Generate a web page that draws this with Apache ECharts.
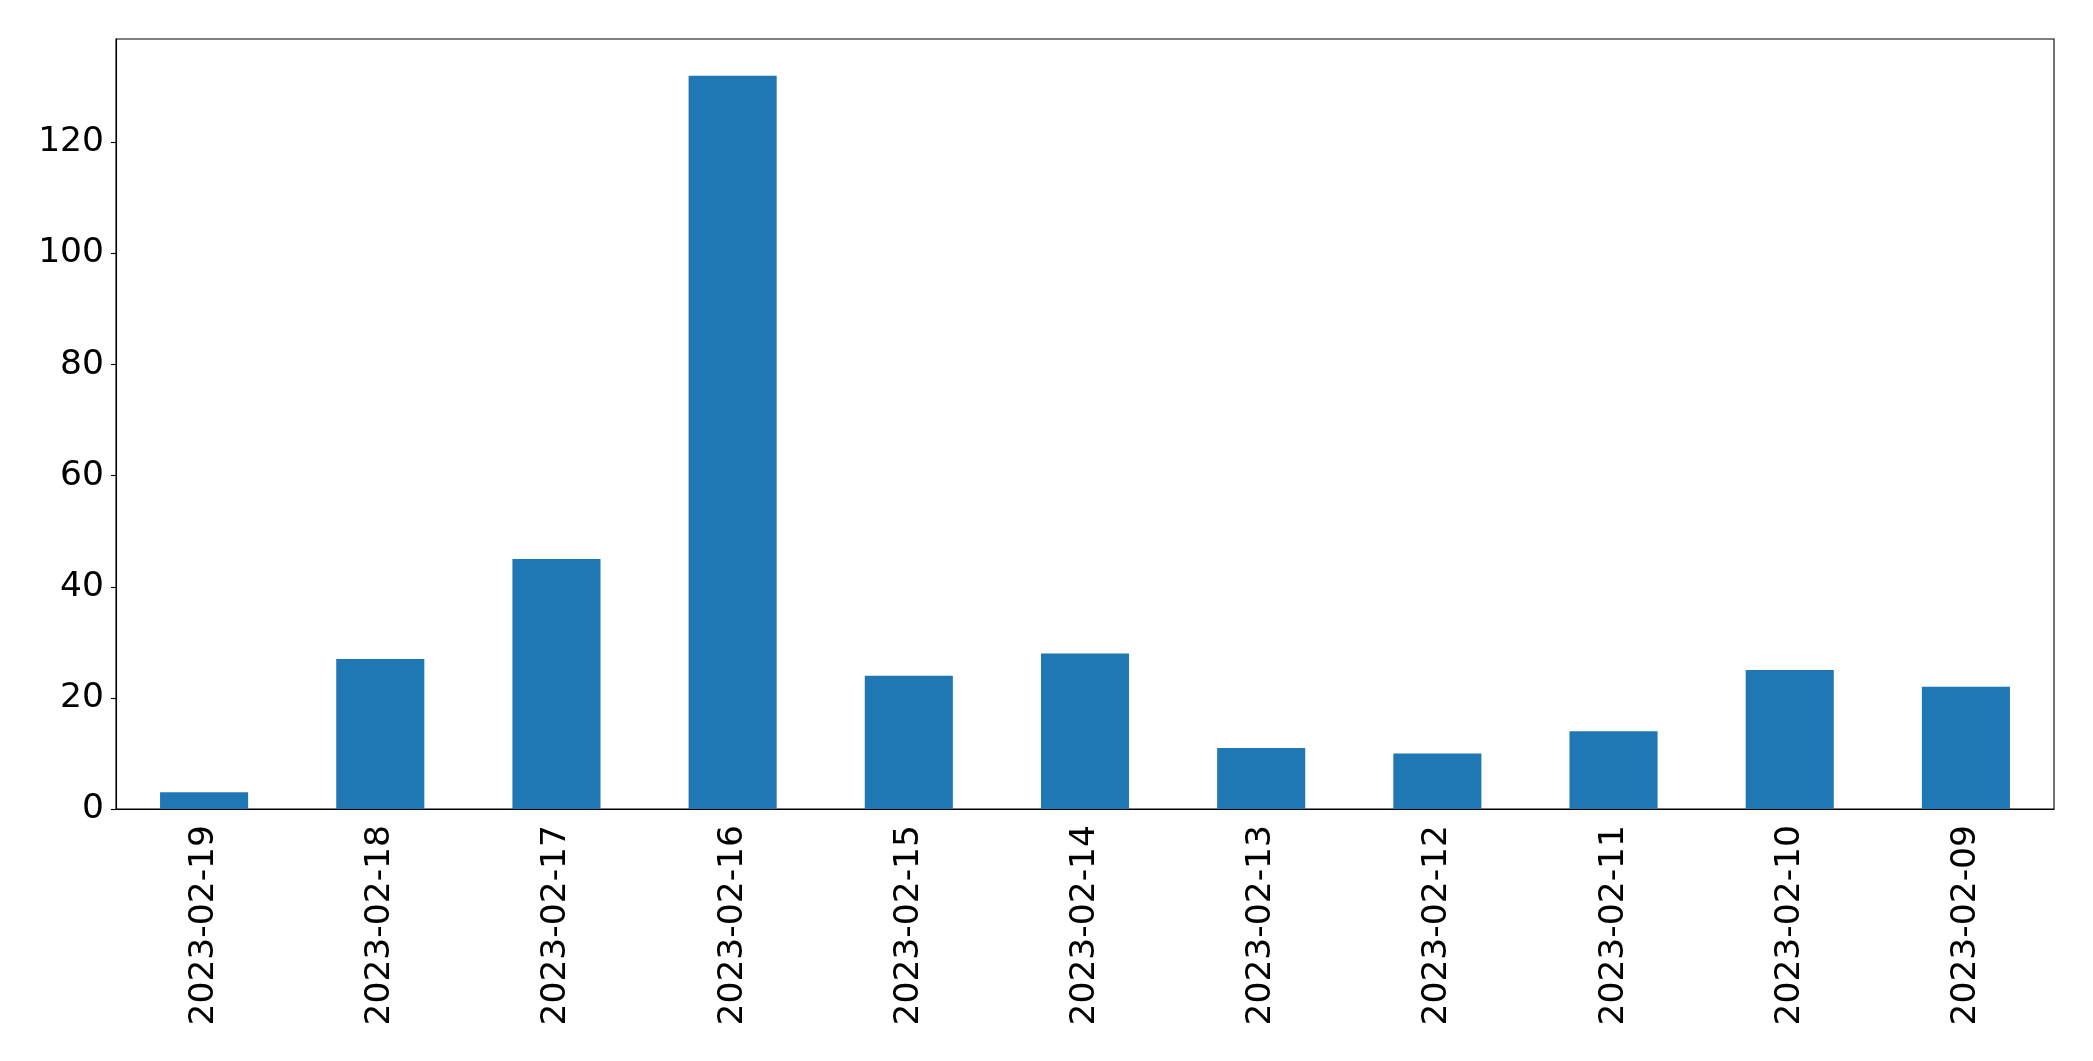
<!DOCTYPE html>
<html>
<head>
<meta charset="utf-8">
<script src="https://cdn.jsdelivr.net/npm/echarts@6/dist/echarts.min.js"></script>
<style>
html,body{margin:0;padding:0;background:#fff;}
#c{width:2093px;height:1061px;}
</style>
</head>
<body>
<div id="c"></div>
<script>
const categories = ['2023-02-19','2023-02-18','2023-02-17','2023-02-16','2023-02-15','2023-02-14','2023-02-13','2023-02-12','2023-02-11','2023-02-10','2023-02-09'];
const values = [3, 27, 45, 132, 24, 28, 11, 10, 14, 25, 22];
const yTicks = [0, 20, 40, 60, 80, 100, 120];

const chart = echarts.init(document.getElementById('c'), null, {renderer: 'canvas'});
const font = 'DejaVu Sans';
chart.setOption({
  animation: false,
  backgroundColor: '#fff',
  grid: {left: 116, right: 39, top: 39, bottom: 252, show: true, borderColor: '#000', borderWidth: 1.1, backgroundColor: 'transparent'},
  xAxis: {
    type: 'category',
    data: categories,
    boundaryGap: true,
    axisLine: {lineStyle: {color: '#000', width: 1.1}},
    axisTick: {alignWithLabel: true, length: 5, lineStyle: {color: '#000', width: 1.1}},
    axisLabel: {rotate: 90, margin: 16, fontSize: 34.5, fontFamily: font, color: '#000', interval: 0},
    splitLine: {show: false}
  },
  yAxis: {
    type: 'value',
    min: 0,
    max: 138.6,
    interval: 20,
    axisLine: {show: true, lineStyle: {color: '#000', width: 1.1}},
    axisTick: {show: true, length: 5, lineStyle: {color: '#000', width: 1.1}, customValues: yTicks},
    axisLabel: {margin: 12, fontSize: 34.5, fontFamily: font, color: '#000', customValues: yTicks, padding: [5, 0, 0, 0]},
    splitLine: {show: false}
  },
  series: [{
    type: 'bar',
    data: values,
    barWidth: '50%',
    itemStyle: {color: '#1f77b4'}
  }]
});
</script>
</body>
</html>
